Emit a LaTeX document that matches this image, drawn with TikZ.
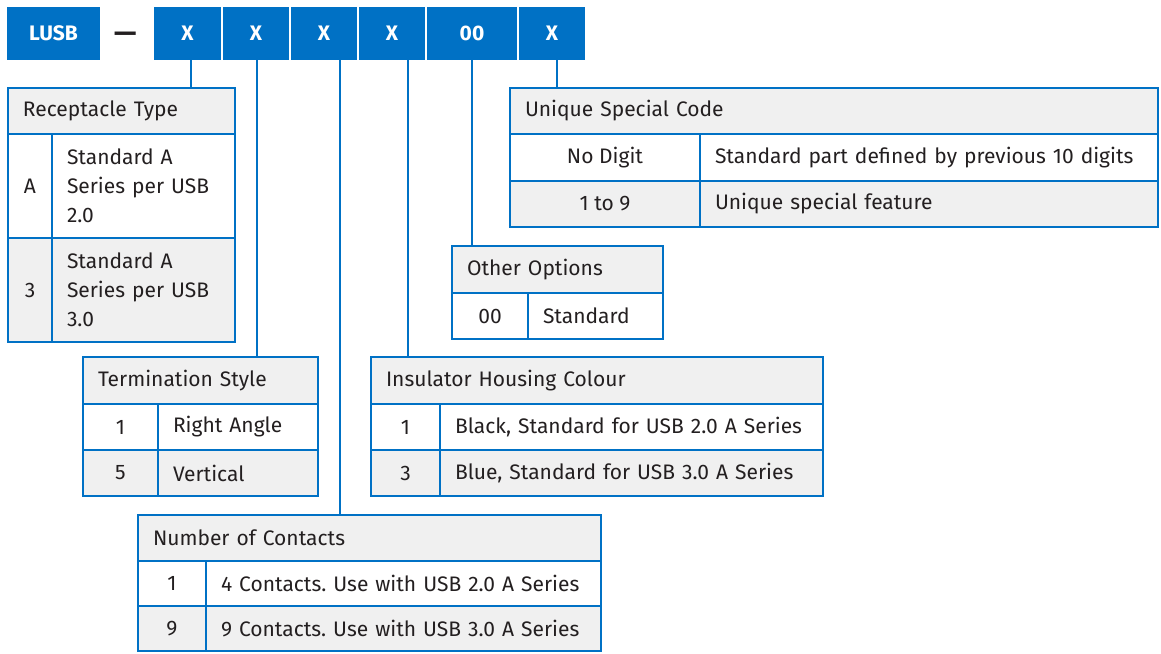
\documentclass[tikz,border=0pt]{standalone}
\usepackage{fontspec}
\setmainfont{Fira Sans}
\usepackage{tikz}
\usetikzlibrary{positioning}
\definecolor{usbblue}{RGB}{0,113,197}
\definecolor{cellgray}{RGB}{240,240,240}
\definecolor{ink}{RGB}{35,31,32}
\frenchspacing

\begin{document}
\begin{tikzpicture}[x=1pt,y=-1pt,font=\fontsize{21}{29}\selectfont,
    code box/.style={fill=usbblue,text=white,font=\fontsize{21}{29}\selectfont\bfseries,
      minimum height=53pt,inner sep=0pt,outer sep=0pt},
    cell/.style={draw=usbblue,line width=2.2pt,anchor=north west,inner sep=0pt,outer sep=0pt,text=ink},
    head cell/.style={cell,fill=cellgray,inner xsep=15pt,align=left,minimum height=46pt},
    key cell/.style={cell,align=center},
    txt cell/.style={cell,inner xsep=15pt,align=left},
    shaded/.style={fill=cellgray},
    link/.style={draw=usbblue,line width=2pt}]
    \useasboundingbox (0,0) rectangle (1161,653);
    % part number code
    \node[code box,minimum width=93pt,anchor=north west] (lusb) at (7,7) {LUSB};
    \node[text=ink,font=\fontsize{28}{29}\selectfont\bfseries,inner sep=0pt] (dash) [right=14pt of lusb,yshift=-4pt] {—};
    \node[code box,minimum width=67pt] (x1) [right=54pt of lusb] {X};
    \node[code box,minimum width=66pt] (x2) [right=2pt of x1] {X};
    \node[code box,minimum width=66pt] (x3) [right=2pt of x2] {X};
    \node[code box,minimum width=66pt] (x4) [right=2pt of x3] {X};
    \node[code box,minimum width=90pt] (x5) [right=2pt of x4] {00};
    \node[code box,minimum width=66pt] (x6) [right=2pt of x5] {X};
    % receptacle type
    \node[head cell,text width=197pt] (rt_head) at (8,88) {Receptacle Type};
    \node[key cell,minimum width=44pt,minimum height=104pt] (rt_a) at (rt_head.south west) {A};
    \node[txt cell,text width=153pt,minimum height=104pt] (rt_a_txt) at (rt_a.north east) {Standard A\\Series per USB\\2.0};
    \node[key cell,shaded,minimum width=44pt,minimum height=104pt] (rt_3) at (rt_a.south west) {3};
    \node[txt cell,shaded,text width=153pt,minimum height=104pt] (rt_3_txt) at (rt_3.north east) {Standard A\\Series per USB\\3.0};
    % termination style
    \node[head cell,text width=205pt,minimum height=47pt] (ts_head) at (83,357) {Termination Style};
    \node[key cell,minimum width=75pt,minimum height=46pt] (ts_1) at (ts_head.south west) {1};
    \node[txt cell,text width=130pt,minimum height=46pt] (ts_1_txt) at (ts_1.north east) {Right Angle};
    \node[key cell,shaded,minimum width=75pt,minimum height=46pt] (ts_5) at (ts_1.south west) {5};
    \node[txt cell,shaded,text width=130pt,minimum height=46pt] (ts_5_txt) at (ts_5.north east) {Vertical};
    % number of contacts
    \node[head cell,text width=433pt] (nc_head) at (138,515) {Number of Contacts};
    \node[key cell,minimum width=68pt,minimum height=45pt] (nc_1) at (nc_head.south west) {1};
    \node[txt cell,text width=365pt,minimum height=45pt] (nc_1_txt) at (nc_1.north east) {4 Contacts. Use with USB 2.0 A Series};
    \node[key cell,shaded,minimum width=68pt,minimum height=45pt] (nc_9) at (nc_1.south west) {9};
    \node[txt cell,shaded,text width=365pt,minimum height=45pt] (nc_9_txt) at (nc_9.north east) {9 Contacts. Use with USB 3.0 A Series};
    % insulator housing colour
    \node[head cell,text width=422pt,minimum height=47pt] (ih_head) at (371,357) {Insulator Housing Colour};
    \node[key cell,minimum width=69pt,minimum height=46pt] (ih_1) at (ih_head.south west) {1};
    \node[txt cell,text width=353pt,minimum height=46pt] (ih_1_txt) at (ih_1.north east) {Black, Standard for USB 2.0 A Series};
    \node[key cell,shaded,minimum width=69pt,minimum height=46pt] (ih_3) at (ih_1.south west) {3};
    \node[txt cell,shaded,text width=353pt,minimum height=46pt] (ih_3_txt) at (ih_3.north east) {Blue, Standard for USB 3.0 A Series};
    % other options
    \node[head cell,text width=181pt,minimum height=47pt] (oo_head) at (452,246) {Other Options};
    \node[key cell,minimum width=76pt,minimum height=46pt] (oo_00) at (oo_head.south west) {00};
    \node[txt cell,text width=105pt,minimum height=46pt] (oo_00_txt) at (oo_00.north east) {Standard};
    % unique special code
    \node[head cell,text width=618pt] (us_head) at (510,88) {Unique Special Code};
    \node[key cell,minimum width=190pt,minimum height=47pt] (us_no) at (us_head.south west) {No Digit};
    \node[txt cell,text width=428pt,minimum height=47pt] (us_no_txt) at (us_no.north east) {Standard part defined by previous 10 digits};
    \node[key cell,shaded,minimum width=190pt,minimum height=46pt] (us_19) at (us_no.south west) {1 to 9};
    \node[txt cell,shaded,text width=428pt,minimum height=46pt] (us_19_txt) at (us_19.north east) {Unique special feature};
    % leaders
    \coordinate (l1) at ([xshift=3pt]x1.south);
    \coordinate (l2) at ([xshift=1pt]x2.south);
    \coordinate (l3) at ([xshift=16pt]x3.south);
    \coordinate (l4) at ([xshift=16pt]x4.south);
    \coordinate (l5) at (x5.south);
    \coordinate (l6) at ([xshift=5pt]x6.south);
    \path[link]
    (l1) edge (l1 |- rt_head.north)
    (l2) edge (l2 |- ts_head.north)
    (l3) edge (l3 |- nc_head.north)
    (l4) edge (l4 |- ih_head.north)
    (l5) edge (l5 |- oo_head.north)
    (l6) edge (l6 |- us_head.north)
    ;
\end{tikzpicture}
\end{document}
